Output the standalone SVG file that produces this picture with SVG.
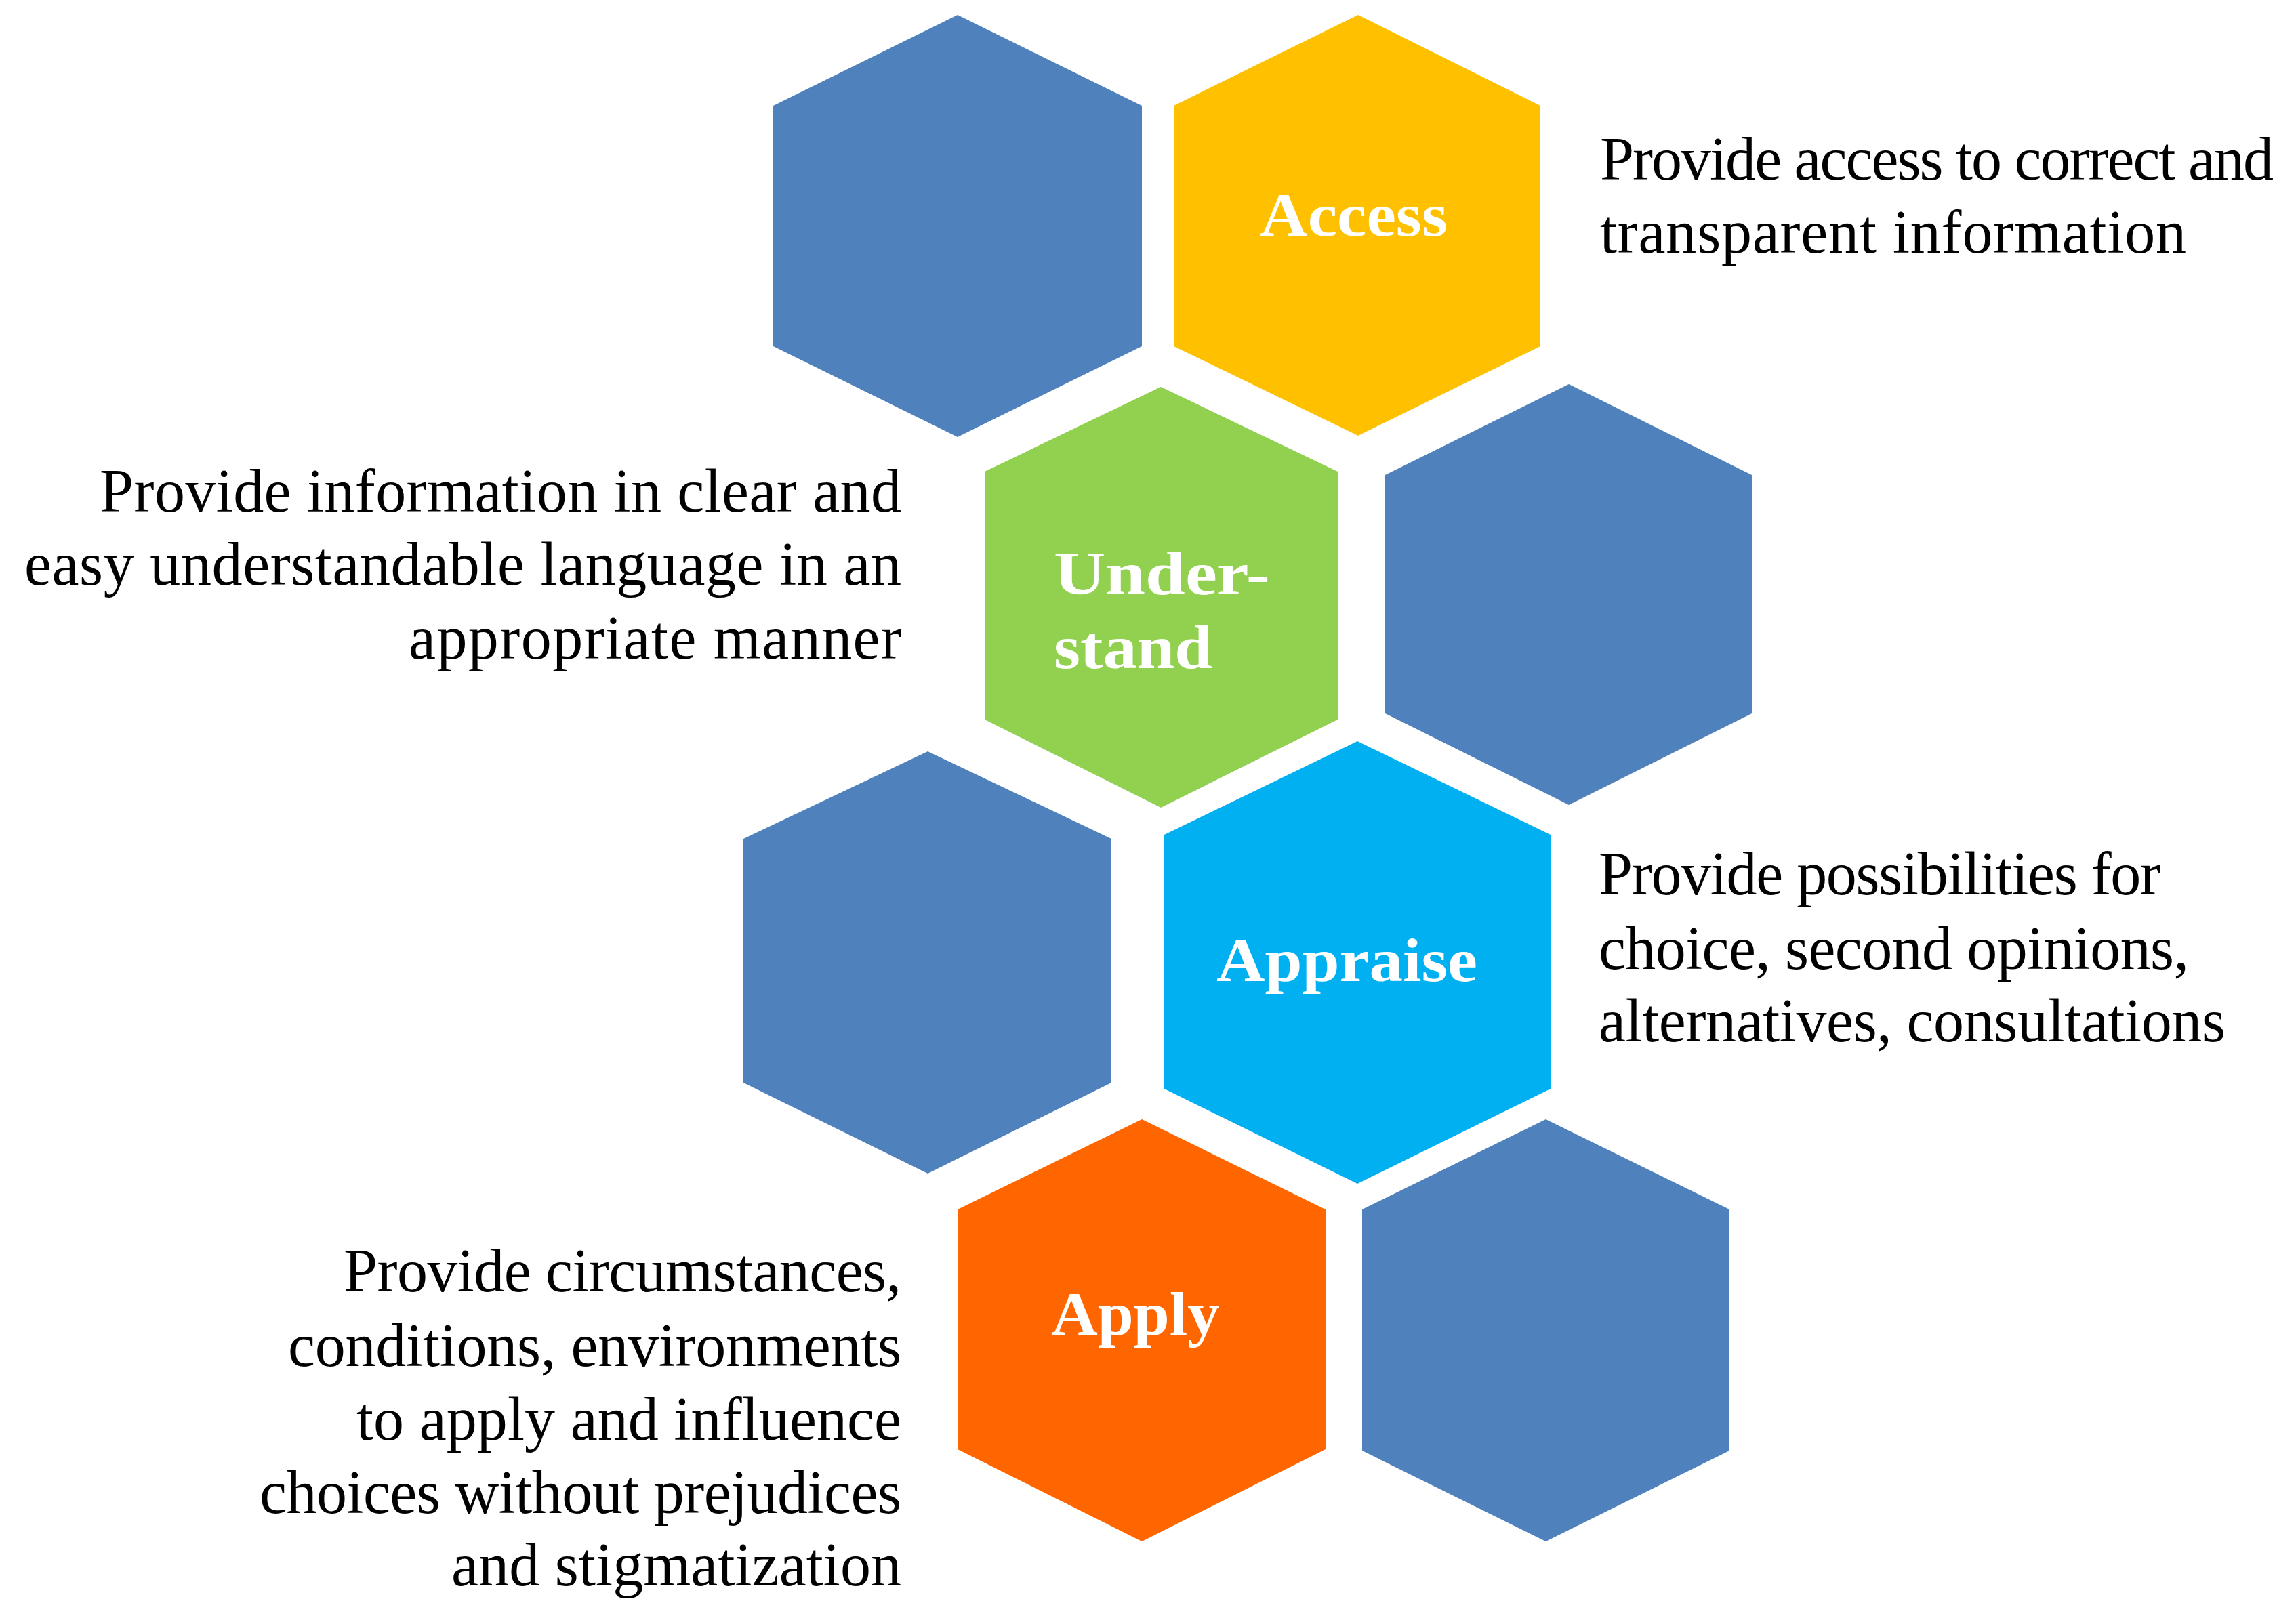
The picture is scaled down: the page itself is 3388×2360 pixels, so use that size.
<svg xmlns="http://www.w3.org/2000/svg" width="3388" height="2360" viewBox="0 0 3388 2360">
<style>
.hb{fill:#4F81BD}
.hy{fill:#FFC000}
.hg{fill:#92D050}
.hc{fill:#00B0F0}
.ho{fill:#FF6600}
.lbl{font-family:"Liberation Serif",serif;font-weight:bold;font-size:90px;fill:#FFFFFF}
.desc{font-family:"Liberation Serif",serif;font-size:90px;fill:#000000}
</style>
<rect x="0" y="0" width="3388" height="2360" fill="#FFFFFF"/>
<g id="hex-blue-1"><polygon class="hb" points="1413,22 1685,156 1685,511 1413,645 1141,511 1141,156"/></g>
<g id="hex-access">
<polygon class="hy" points="2004,22 2273,156 2273,511 2004,643 1732,511 1732,156"/>
<text class="lbl" x="1859" y="348" textLength="277" lengthAdjust="spacingAndGlyphs">Access</text>
</g>
<g id="hex-understand">
<polygon class="hg" points="1713,571 1974,696 1974,1062 1713,1192 1453,1062 1453,696"/>
<text class="lbl" x="1555" y="877" textLength="319" lengthAdjust="spacingAndGlyphs">Under-</text>
<text class="lbl" x="1555" y="986" textLength="234" lengthAdjust="spacingAndGlyphs">stand</text>
</g>
<g id="hex-blue-2"><polygon class="hb" points="2315,567 2585,701 2585,1053 2315,1188 2044,1053 2044,701"/></g>
<g id="hex-blue-3"><polygon class="hb" points="1369,1109 1640,1238 1640,1598 1369,1732 1097,1598 1097,1238"/></g>
<g id="hex-appraise">
<polygon class="hc" points="2003,1094 2288,1232 2288,1607 2003,1747 1718,1607 1718,1232"/>
<text class="lbl" x="1795" y="1448" textLength="385" lengthAdjust="spacingAndGlyphs">Appraise</text>
</g>
<g id="hex-apply">
<polygon class="ho" points="1685,1652 1956,1785 1956,2139 1685,2275 1413,2139 1413,1785"/>
<text class="lbl" x="1551" y="1970" textLength="249" lengthAdjust="spacingAndGlyphs">Apply</text>
</g>
<g id="hex-blue-4"><polygon class="hb" points="2281,1652 2552,1785 2552,2141 2281,2275 2010,2141 2010,1785"/></g>
<g id="desc-access">
<text class="desc" x="2361" y="265" textLength="994">Provide access to correct and</text>
<text class="desc" x="2361" y="373" textLength="865">transparent information</text>
</g>
<g id="desc-understand">
<text class="desc" x="147" y="755" textLength="1183">Provide information in clear and</text>
<text class="desc" x="36" y="863" textLength="1294">easy understandable language in an</text>
<text class="desc" x="603" y="972" textLength="727">appropriate manner</text>
</g>
<g id="desc-appraise">
<text class="desc" x="2359" y="1320" textLength="829">Provide possibilities for</text>
<text class="desc" x="2359" y="1430" textLength="871">choice, second opinions,</text>
<text class="desc" x="2359" y="1537" textLength="925">alternatives, consultations</text>
</g>
<g id="desc-apply">
<text class="desc" x="507" y="1906" textLength="823">Provide circumstances,</text>
<text class="desc" x="425" y="2016" textLength="905">conditions, environments</text>
<text class="desc" x="526" y="2125" textLength="804">to apply and influence</text>
<text class="desc" x="383" y="2233" textLength="947">choices without prejudices</text>
<text class="desc" x="666" y="2340" textLength="664">and stigmatization</text>
</g>
<g id="connectors"></g>
</svg>
